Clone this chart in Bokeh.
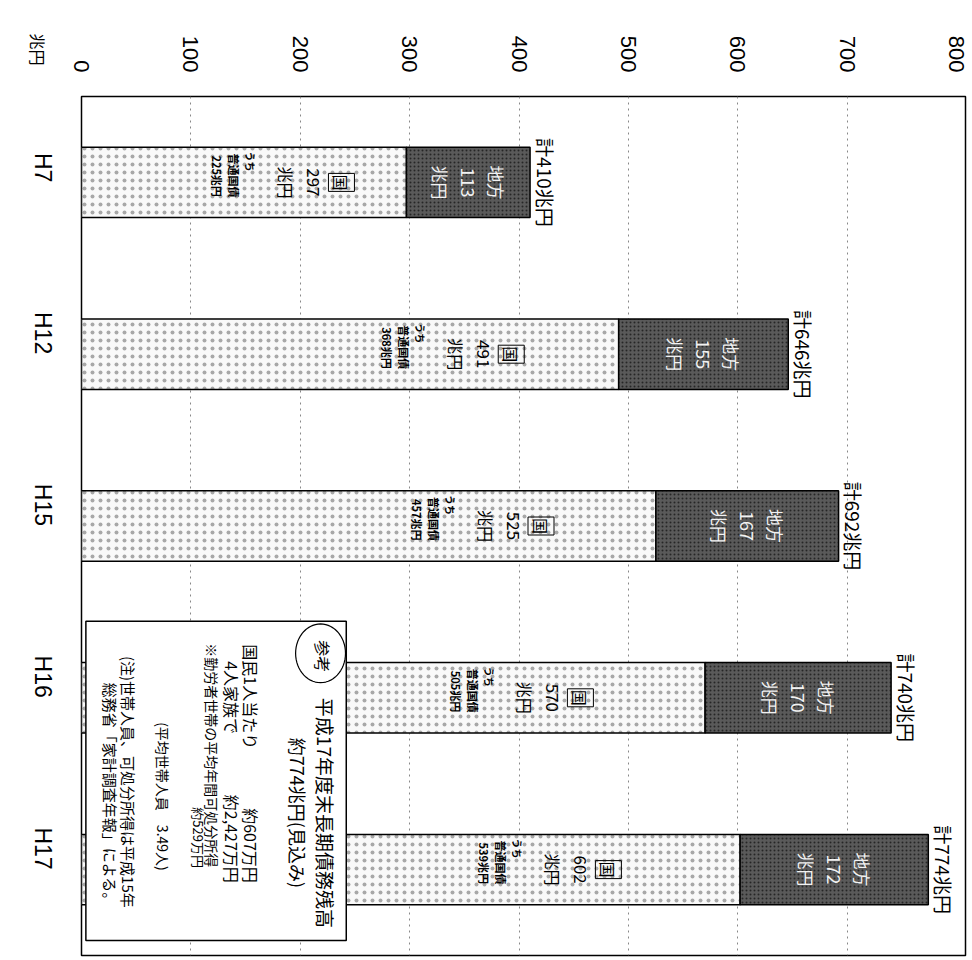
import math
from bokeh.plotting import figure
from bokeh.models import Range1d, FixedTicker, Label, BoxAnnotation, PolyAnnotation, ColumnDataSource
from bokeh.embed import file_html
from bokeh.resources import INLINE
from bokeh.core.properties import value

# ---- data (兆円) ----
years = ["H7", "H12", "H15", "H16", "H17"]
national = [297, 491, 525, 570, 602]      # 国
local = [113, 155, 167, 170, 172]         # 地方
futsuu = [225, 368, 457, 505, 539]        # うち普通国債
value_ticks = [0, 100, 200, 300, 400, 500, 600, 700, 800]
grid_ticks = [100, 200, 300, 400, 500, 600, 700]

FONT = "Noto Sans CJK JP"
TICKFONT = "Liberation Sans"
ROT = -math.pi / 2

idx = list(range(len(years)))
totals = [n + l for n, l in zip(national, local)]

W, H = 972, 958
p = figure(width=W, height=H, output_backend="svg", toolbar_location=None,
           x_range=Range1d(0, 808), y_range=Range1d(4.5, -0.5),
           x_axis_location="above",
           min_border_left=81, min_border_right=7, min_border_top=94, min_border_bottom=3)
p.background_fill_color = "white"
p.outline_line_color = "black"
p.outline_line_width = 1.5

# axes
p.xaxis.ticker = FixedTicker(ticks=value_ticks)
p.xaxis.major_label_orientation = ROT
p.xaxis.major_label_standoff = 18
p.xaxis.major_label_text_font = TICKFONT
p.xaxis.major_label_text_font_size = "22px"
p.xaxis.major_label_text_color = "black"
p.xaxis.axis_line_color = None
p.xaxis.major_tick_line_color = None
p.xaxis.minor_tick_line_color = None

p.yaxis.ticker = FixedTicker(ticks=idx)
p.yaxis.major_label_overrides = {i: y for i, y in zip(idx, years)}
p.yaxis.major_label_orientation = ROT
p.yaxis.major_label_standoff = 33
p.yaxis.major_label_text_font = TICKFONT
p.yaxis.major_label_text_font_size = "23px"
p.yaxis.major_label_text_color = "black"
p.yaxis.axis_line_color = None
p.yaxis.major_tick_line_color = None
p.yaxis.minor_tick_line_color = None

p.xgrid.ticker = FixedTicker(ticks=grid_ticks)
p.xgrid.grid_line_color = "#888888"
p.xgrid.grid_line_dash = "2 4"
p.xgrid.grid_line_width = 1
p.ygrid.grid_line_color = None

# bars
src = ColumnDataSource(dict(y=idx, nat=national, loc=local, tot=totals, fut=futsuu,
                            nat_anchor=[n * 0.8 for n in national],
                            loc_mid=[n + l / 2 for n, l in zip(national, local)],
                            nat_txt=[str(n) for n in national],
                            loc_txt=[str(l) for l in local],
                            fut_txt=[f"{f}兆円" for f in futsuu],
                            tot_txt=[f"計{t}兆円" for t in totals]))

p.hbar(y="y", left=0, right="nat", height=0.41, source=src,
       fill_color="#f9f9f9", line_color="black", line_width=1.5,
       hatch_pattern=".", hatch_color="#a8a8a8", hatch_scale=8, hatch_weight=1)
p.hbar(y="y", left="nat", right="tot", height=0.41, source=src,
       fill_color="#5a5a5a", line_color="black", line_width=1.5,
       hatch_pattern=".", hatch_color="#262626", hatch_scale=4, hatch_weight=1)

def col(x, text, x_off, size, align="center", y_off=0, color="black", style="normal", **kw):
    p.text(x=x, y="y", text=text, source=src, angle=ROT, x_offset=x_off, y_offset=y_off,
           text_align=align, text_baseline="middle", text_font=value(FONT),
           text_font_size=size, text_color=color, text_font_style=style, **kw)

# national part labels
col("nat_anchor", value("国"), 0, "16px", border_line_color="black", border_line_width=1, padding=1)
col("nat_anchor", "nat_txt", -28, "17px")
col("nat_anchor", value("兆円"), -55, "16px")
col("nat_anchor", value("うち"), -91, "10px", align="left", y_off=-31, style="bold")
col("nat_anchor", value("普通国債"), -107, "11px", align="left", y_off=-29, style="bold")
col("nat_anchor", "fut_txt", -124, "11px", align="left", y_off=-27, style="bold")

# local part labels
col("loc_mid", value("地方"), 28, "17px", color="#f2f2f2")
col("loc_mid", "loc_txt", 0, "18px", color="#f2f2f2")
col("loc_mid", value("兆円"), -28, "17px", color="#f2f2f2")

# totals
col("tot", "tot_txt", 15, "19px")

# unit label, placed in the top side panel (outside the frame)
p.add_layout(Label(x=37, y=49, x_units="canvas", y_units="canvas", text="兆円", angle=ROT,
                   text_align="center", text_baseline="middle", text_font=FONT,
                   text_font_size="16px", text_color="black"), "above")

# reference box
p.add_layout(BoxAnnotation(left=4, right=242, top=2.555, bottom=4.413,
                           fill_color="white", fill_alpha=1.0,
                           line_color="black", line_width=1.5, line_alpha=1.0))
cx, cy, rx, ry = 218.5, 2.741, 22.8, 0.171
ts = [2 * math.pi * k / 60 for k in range(60)]
p.add_layout(PolyAnnotation(xs=[cx + rx * math.cos(t) for t in ts],
                            ys=[cy + ry * math.sin(t) for t in ts],
                            fill_color="white", fill_alpha=1.0,
                            line_color="black", line_width=1.2, line_alpha=1.0))

def lab(x, y, text, size, align):
    p.add_layout(Label(x=x, y=y, text=text, angle=ROT, text_align=align,
                       text_baseline="middle", text_font=FONT, text_font_size=size,
                       text_color="black"))

lab(221, 2.758, "参考", "16px", "center")
lab(223, 3.670, "平成17年度末長期債務残高", "19px", "center")
lab(198, 3.670, "約774兆円(見込み)", "18px", "center")
lab(154.5, 2.689, "国民1人当たり", "16px", "left")
lab(154.5, 4.077, "約607万円", "16px", "right")
lab(138, 2.787, "4人家族で", "16px", "left")
lab(138, 4.077, "約2,427万円", "16px", "right")
lab(119.7, 2.683, "※勤労者世帯の平均年間可処分所得", "14px", "left")
lab(107, 3.990, "約529万円", "13px", "right")
lab(74.9, 4.007, "(平均世帯人員　3.49人)", "14px", "right")
lab(42.9, 4.222, "(注)世帯人員、可処分所得は平成15年", "15px", "right")
lab(26.5, 4.222, "総務省「家計調査年報」による。", "15px", "right")

open("out.html", "w").write(file_html(p, INLINE))
